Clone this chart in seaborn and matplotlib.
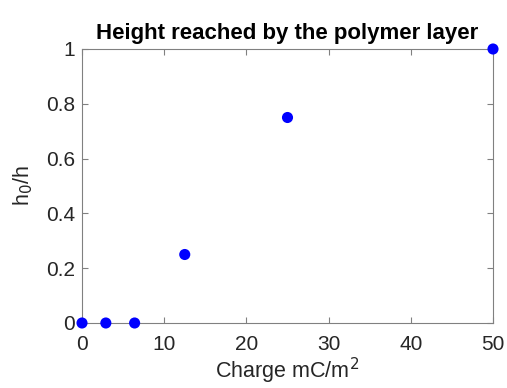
import matplotlib
matplotlib.use("Agg")
import matplotlib.pyplot as plt
import seaborn as sns
import pandas as pd

charge = [0, 2.9, 6.4, 12.5, 25, 50]
ratio = [0, 0, 0, 0.25, 0.75, 1]
xticks = [0, 10, 20, 30, 40, 50]
yticks = [0, 0.2, 0.4, 0.6, 0.8, 1]
ylabels = ["0", "0.2", "0.4", "0.6", "0.8", "1"]

sns.set_style("white")
plt.rcParams['font.family'] = ['Liberation Sans', 'DejaVu Sans']

df = pd.DataFrame({"charge": charge, "ratio": ratio})
fig = plt.figure(figsize=(5.07, 3.88), dpi=100)
ax = fig.add_axes([82/507, 65/388, 411/507, 274/388])
sns.scatterplot(data=df, x="charge", y="ratio", ax=ax, color="#0000ff",
                s=64, edgecolor="none", clip_on=False, zorder=5)
ax.set_xlim(0, 50)
ax.set_ylim(0, 1)
ax.set_xticks(xticks)
ax.set_xticklabels([str(t) for t in xticks])
ax.set_yticks(yticks)
ax.set_yticklabels(ylabels)
gray = "#262626"
for s in ax.spines.values():
    s.set_color("#808080")
    s.set_linewidth(0.8)
ax.tick_params(direction="in", length=4, width=0.8, color="#808080",
               labelsize=15, labelcolor=gray, top=True, right=True,
               labeltop=False, labelright=False, bottom=True, left=True)
ax.tick_params(axis="x", pad=9)
ax.tick_params(axis="y", pad=5)
ax.set_xlabel("Charge mC/m$^2$", fontsize=15.5, color=gray, labelpad=1)
ax.set_ylabel("h$_0$/h", fontsize=15.5, color=gray, labelpad=8)
ax.set_title("Height reached by the polymer layer", fontsize=16,
             fontweight="bold", color="black", pad=7)
fig.savefig("out.png", dpi=100)
